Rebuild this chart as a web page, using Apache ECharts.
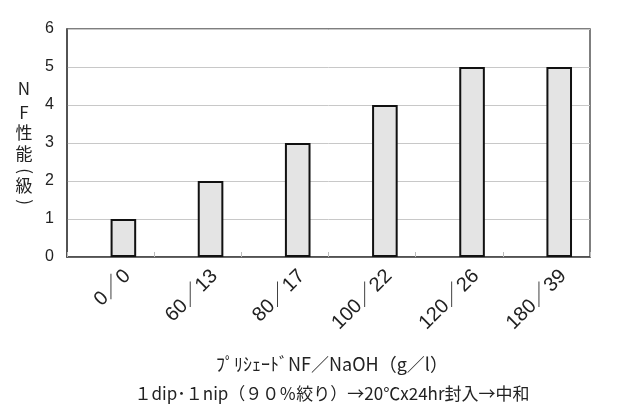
<!DOCTYPE html>
<html>
<head>
<meta charset="utf-8">
<script src="https://cdn.jsdelivr.net/npm/echarts@6/dist/echarts.min.js"></script>
<style>html,body{margin:0;padding:0;background:#fff;}#c{width:640px;height:409px;}</style>
</head>
<body>
<div id="c"></div>
<script>
const categories = ['0／0', '60／13', '80／17', '100／22', '120／26', '180／39'];
const values = [1, 2, 3, 4, 5, 5];
const emptyValues = ['-', '-', '-', '-', '-', '-'];
const yAxisTitleChars = ['N', 'F', '性', '能', '(', '級', ')'];
const xTitle1 = 'ﾌﾟﾘｼｪｰﾄﾞNF／NaOH（g／l）';
const xTitle2 = '１dip･１nip（９０％絞り）→20℃x24hr封入→中和';

const FONT = '"Liberation Sans", "Noto Sans CJK JP", sans-serif';
const FONT_CJK = '"Noto Sans CJK JP", sans-serif';
const titleCharY = [88.5, 113, 132.5, 153.5, 171, 186, 202];

const graphics = yAxisTitleChars.map((ch, i) => ({
  type: 'text',
  x: (ch === '(' || ch === ')') ? 25 : 24, y: titleCharY[i],
  rotation: (ch === '(' || ch === ')') ? -Math.PI / 2 : 0,
  style: {text: ch, font: '17px ' + FONT_CJK, fill: '#222', align: 'center', verticalAlign: 'middle'}
}));

const chart = echarts.init(document.getElementById('c'), null, {renderer: 'canvas'});
chart.setOption({
  animation: false,
  backgroundColor: '#fff',
  textStyle: {fontFamily: FONT},
  title: [
    {text: xTitle1, left: 327, top: 350, textAlign: 'center',
     textStyle: {fontSize: 18, fontWeight: 'normal', color: '#222', fontFamily: FONT_CJK}},
    {text: xTitle2, left: 327, top: 380, textAlign: 'center',
     textStyle: {fontSize: 17, fontWeight: 'normal', color: '#222', fontFamily: FONT_CJK}}
  ],
  graphic: graphics,
  grid: [
    {left: 67, right: 50, top: 29, bottom: 152, show: true, borderColor: '#555', borderWidth: 1.5, backgroundColor: '#fff'},
    {left: 83.8, right: 33.2, top: 29, bottom: 152, show: false}
  ],
  xAxis: [
    {type: 'category', gridIndex: 0, data: categories, boundaryGap: true,
     axisLine: {show: true, lineStyle: {color: '#444', width: 1.5}},
     axisTick: {show: true, inside: true, length: 5, lineStyle: {color: '#bbb'}},
     axisLabel: {show: false}},
    {type: 'category', gridIndex: 1, data: categories, boundaryGap: true,
     axisLine: {show: false}, axisTick: {show: false},
     axisLabel: {show: true, rotate: 45, margin: 16, fontSize: 20, color: '#222', fontFamily: FONT}}
  ],
  yAxis: [
    {type: 'value', gridIndex: 0, min: 0, max: 6, interval: 1,
     axisLine: {show: true, lineStyle: {color: '#444', width: 1.5}},
     axisTick: {show: false},
     axisLabel: {margin: 13, fontSize: 16, color: '#222', fontFamily: FONT},
     splitLine: {show: true, lineStyle: {color: '#c8c8c8', width: 1}}},
    {type: 'value', gridIndex: 1, min: 0, max: 6, show: false, splitLine: {show: false}}
  ],
  series: [
    {type: 'bar', xAxisIndex: 0, yAxisIndex: 0, data: emptyValues, barWidth: 25.6, barGap: '0%'},
    {type: 'bar', xAxisIndex: 0, yAxisIndex: 0, data: values, barWidth: 25.6, barGap: '0%',
     itemStyle: {color: '#e4e4e4', borderColor: '#111', borderWidth: 2}}
  ]
});
</script>
</body>
</html>
